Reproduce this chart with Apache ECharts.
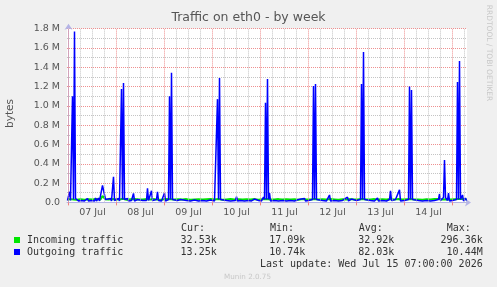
<!DOCTYPE html>
<html><head><meta charset="utf-8">
<script src="https://cdn.jsdelivr.net/npm/echarts@6/dist/echarts.min.js"></script>
<style>html,body{margin:0;padding:0;background:#f0f0f0;}#c{width:497px;height:287px;}</style>
</head><body><div id="c"></div>
<script>
// ---- axis definitions (hours since 07 Jul 00:00) ----
const xTickHours = [12, 36, 60, 84, 108, 132, 156, 180];
const xTickLabels = ['07 Jul', '08 Jul', '09 Jul', '10 Jul', '11 Jul', '12 Jul', '13 Jul', '14 Jul'];
const dayLineHours = [0, 24, 48, 72, 96, 120, 144, 168, 192];
const minorLineHours = [6, 12, 18, 30, 36, 42, 54, 60, 66, 78, 84, 90, 102, 108, 114, 126, 132, 138, 150, 156, 162, 174, 180, 186, 198];
const yTickLabels = ['0.0', '0.2 M', '0.4 M', '0.6 M', '0.8 M', '1.0 M', '1.2 M', '1.4 M', '1.6 M', '1.8 M'];

// ---- series (values in millions of bytes) ----
const seriesNames = ['Incoming traffic', 'Outgoing traffic'];
const inHours = [-0.5, 1, 2.5, 4, 6, 8, 10, 12, 14, 16, 16.5, 17, 17.5, 18, 18.5, 20, 22, 24, 26, 27.5, 29, 31, 33, 35, 37, 39.5, 41, 43, 45, 47, 49, 51, 53, 55, 57, 59, 61, 63, 65, 67, 69, 71, 73, 75, 77, 79, 81, 83, 85, 87, 89, 91, 93, 95, 97, 99, 101, 103, 105, 107, 109, 111, 113, 115, 117, 119, 121, 123, 125, 127, 129, 131, 133, 135, 137, 139, 141, 143, 145, 147, 149, 151, 153, 155, 157, 159, 161, 163, 165, 167, 169, 171, 173, 175, 177, 179, 181, 183, 185, 187, 188, 189, 191, 193, 195, 197, 199];
const inValues = [0.03, 0.034, 0.03, 0.028, 0.032, 0.027, 0.033, 0.03, 0.035, 0.03, 0.04, 0.066, 0.07, 0.05, 0.032, 0.029, 0.034, 0.03, 0.033, 0.038, 0.028, 0.032, 0.036, 0.029, 0.031, 0.036, 0.03, 0.034, 0.028, 0.031, 0.035, 0.033, 0.029, 0.032, 0.03, 0.034, 0.028, 0.031, 0.033, 0.029, 0.032, 0.035, 0.03, 0.036, 0.028, 0.031, 0.034, 0.03, 0.032, 0.029, 0.033, 0.03, 0.034, 0.028, 0.032, 0.036, 0.03, 0.031, 0.034, 0.029, 0.032, 0.03, 0.033, 0.028, 0.034, 0.031, 0.03, 0.035, 0.029, 0.032, 0.03, 0.034, 0.031, 0.028, 0.033, 0.03, 0.034, 0.029, 0.032, 0.036, 0.03, 0.031, 0.034, 0.029, 0.032, 0.03, 0.035, 0.031, 0.036, 0.029, 0.032, 0.034, 0.03, 0.031, 0.028, 0.033, 0.03, 0.034, 0.036, 0.031, 0.04, 0.033, 0.029, 0.032, 0.035, 0.034, 0.033];
const outHours = [-0.5, 0, 0.5, 1, 1.5, 2, 2.5, 3, 3.5, 4, 5, 6.5, 8, 9.5, 10, 11.5, 13, 13.5, 14, 15, 15.5, 16.5, 17, 17.5, 18, 18.5, 19.5, 21, 21.5, 22.5, 23, 24, 25, 25.5, 26, 26.5, 27, 27.5, 28, 29.5, 30, 31.5, 32.5, 33, 34.5, 35, 37, 39, 39.5, 40, 41, 41.5, 42, 44, 44.5, 45, 46.5, 47.5, 48, 48.5, 50, 50.5, 51, 51.5, 52, 53, 54.5, 56, 57, 59, 61, 63, 65, 67, 69, 71, 73, 74, 74.5, 75, 75.5, 76, 77, 79, 81, 83.5, 84, 84.5, 86, 88, 90, 91, 91.5, 93, 93.5, 95, 96.5, 97.5, 98, 98.5, 99, 99.5, 100, 100.5, 101, 103, 105, 107, 109, 111, 113, 115, 115.5, 118, 118.5, 120, 122, 122.5, 123, 123.5, 124, 125, 127, 129, 130.5, 131, 133, 135, 137, 139.5, 140, 141.5, 142, 144, 146, 146.5, 147, 147.5, 148, 149, 151, 153, 154.5, 155, 157, 159, 160.5, 161, 161.5, 163.5, 164, 164.5, 165.5, 166, 168, 170, 170.5, 171, 171.5, 172, 173, 175, 177, 179, 181, 183, 185, 185.5, 186, 187.5, 188, 188.5, 189.5, 190, 190.5, 192, 194, 194.5, 195, 195.5, 196, 196.5, 197, 197.5, 198.5, 199];
const outValues = [0.02, 0.03, 0.11, 0.02, 0.03, 1.10, 0.03, 1.77, 0.04, 0.035, 0.015, 0.02, 0.015, 0.04, 0.015, 0.02, 0.015, 0.045, 0.015, 0.045, 0.015, 0.03, 0.177, 0.18, 0.177, 0.03, 0.015, 0.04, 0.015, 0.266, 0.02, 0.015, 0.04, 0.015, 0.03, 1.175, 0.03, 1.237, 0.03, 0.04, 0.015, 0.02, 0.094, 0.015, 0.03, 0.015, 0.02, 0.02, 0.146, 0.02, 0.03, 0.12, 0.02, 0.03, 0.11, 0.02, 0.015, 0.03, 0.097, 0.015, 0.03, 1.10, 0.03, 1.344, 0.03, 0.015, 0.02, 0.03, 0.015, 0.02, 0.015, 0.025, 0.015, 0.02, 0.015, 0.025, 0.015, 0.03, 1.07, 0.03, 1.29, 0.03, 0.015, 0.02, 0.015, 0.02, 0.06, 0.015, 0.02, 0.015, 0.02, 0.04, 0.015, 0.035, 0.015, 0.02, 0.015, 0.055, 0.03, 1.033, 0.03, 1.279, 0.03, 0.097, 0.015, 0.02, 0.015, 0.02, 0.015, 0.02, 0.015, 0.03, 0.015, 0.04, 0.015, 0.02, 0.03, 1.206, 0.03, 1.227, 0.03, 0.015, 0.02, 0.015, 0.077, 0.015, 0.02, 0.015, 0.02, 0.055, 0.015, 0.035, 0.015, 0.02, 0.03, 1.227, 0.03, 1.558, 0.03, 0.015, 0.02, 0.015, 0.045, 0.015, 0.02, 0.015, 0.03, 0.12, 0.02, 0.03, 0.05, 0.02, 0.13, 0.015, 0.02, 0.03, 1.20, 0.03, 1.165, 0.03, 0.015, 0.02, 0.015, 0.02, 0.015, 0.02, 0.03, 0.087, 0.02, 0.05, 0.44, 0.05, 0.02, 0.097, 0.015, 0.02, 0.03, 1.248, 0.03, 1.465, 0.03, 0.015, 0.077, 0.015, 0.045, 0.02];

// ---- legend table ----
const statHeaders = ['Cur:', 'Min:', 'Avg:', 'Max:'];
const curValues = ['32.53k', '13.25k'];
const minValues = ['17.09k', '10.74k'];
const avgValues = ['32.92k', '82.03k'];
const maxValues = ['296.36k', '10.44M'];
const lastUpdate = 'Last update: Wed Jul 15 07:00:00 2026';
const titleText = 'Traffic on eth0 - by week';
const yAxisName = 'bytes';
const sideText = 'RRDTOOL / TOBI OETIKER';
const footerText = 'Munin 2.0.75';

const colors = ['#00e600', '#0000ff'];
const SANS = 'DejaVu Sans';
const MONO = 'DejaVu Sans Mono';

const zip = (hs, vs) => hs.map((h, i) => [h, vs[i]]);

const chart = echarts.init(document.getElementById('c'), null, {renderer: 'canvas'});

const colRight = [216.7, 305.3, 394.3, 482.7];
const colHeaderLeft = [181, 270, 358.7, 446.7];
const cols = [curValues, minValues, avgValues, maxValues];
const graphics = [];
statHeaders.forEach((t, i) => {
  graphics.push({type: 'text', left: colHeaderLeft[i], top: 223, style: {text: t, font: '10px ' + MONO, fill: '#333'}});
  cols[i].forEach((v, r) => {
    graphics.push({type: 'text', x: colRight[i], y: 240 + r * 12, style: {text: v, font: '10px ' + MONO, fill: '#333', align: 'right', verticalAlign: 'middle'}});
  });
});
graphics.push({type: 'text', x: 482.7, y: 264, style: {text: lastUpdate, font: '10px ' + MONO, fill: '#333', align: 'right', verticalAlign: 'middle'}});
graphics.push({type: 'text', x: 247.5, y: 277, style: {text: footerText, font: '7.2px ' + SANS, fill: '#c8c8c8', align: 'center', verticalAlign: 'middle'}});
graphics.push({type: 'text', x: 10.5, y: 113.5, rotation: Math.PI / 2, style: {text: yAxisName, font: '10.5px ' + SANS, fill: '#555', align: 'center', verticalAlign: 'middle'}});
graphics.push({type: 'text', x: 488.5, y: 53, rotation: -Math.PI / 2, style: {text: sideText, font: '7.5px ' + SANS, fill: '#c8c8c8', align: 'center', verticalAlign: 'middle'}});

const option = {
  animation: false,
  backgroundColor: '#f0f0f0',
  title: {text: titleText, left: 'center', top: 11, padding: 0,
    textStyle: {fontFamily: SANS, fontSize: 12.5, fontWeight: 'normal', color: '#555'}},
  grid: {left: 67, top: 28.7, width: 400, height: 173.7, show: true, backgroundColor: '#ffffff', borderWidth: 0},
  legend: {
    data: seriesNames, orient: 'vertical', left: 14, top: 234, padding: 0,
    itemWidth: 6, itemHeight: 6, itemGap: 0, icon: 'rect', selectedMode: false,
    textStyle: {fontFamily: MONO, fontSize: 10, color: '#333', lineHeight: 12, padding: [0, 0, 0, 2]}
  },
  xAxis: {
    type: 'value', min: -0.75, max: 199.25,
    splitLine: {show: false},
    axisLine: {show: true, lineStyle: {color: '#b4b4e6', width: 1}, symbol: ['none', 'arrow'], symbolSize: [6, 6], symbolOffset: [0, 4]},
    axisTick: {show: true, customValues: dayLineHours, length: 3, lineStyle: {color: '#f08080'}},
    axisLabel: {customValues: xTickHours, margin: 5, fontFamily: SANS, fontSize: 9.5, color: '#555',
      formatter: v => { const i = xTickHours.indexOf(Math.round(v)); return i >= 0 ? xTickLabels[i] : ''; }}
  },
  yAxis: {
    type: 'value', min: 0, max: 1.8, interval: 0.2,
    axisLine: {show: true, lineStyle: {color: '#b4b4e6', width: 1}, symbol: ['none', 'arrow'], symbolSize: [6, 6], symbolOffset: [0, 5]},
    axisTick: {show: false},
    axisLabel: {margin: 7, fontFamily: SANS, fontSize: 9.5, color: '#555',
      formatter: v => yTickLabels[Math.round(v / 0.2)]},
    splitLine: {show: true, lineStyle: {color: '#ee9090', type: [1, 1], width: 1}},
    minorTick: {show: false, splitNumber: 2},
    minorSplitLine: {show: true, lineStyle: {color: '#c4c4c4', type: [1, 1], width: 1}}
  },
  graphic: graphics,
  series: [
    {name: 'grid6h', type: 'line', data: [], z: 1, silent: true,
      markLine: {symbol: 'none', silent: true, label: {show: false}, animation: false,
        lineStyle: {color: '#c4c4c4', type: [1, 1], width: 1},
        data: minorLineHours.map(h => ({xAxis: h}))}},
    {name: 'gridDay', type: 'line', data: [], z: 1, silent: true,
      markLine: {symbol: 'none', silent: true, label: {show: false}, animation: false,
        lineStyle: {color: '#ee9090', type: [1, 1], width: 1},
        data: dayLineHours.map(h => ({xAxis: h}))}},
    {name: seriesNames[0], type: 'line', data: zip(inHours, inValues), z: 3, symbol: 'none',
      lineStyle: {color: colors[0], width: 2}, itemStyle: {color: colors[0]}},
    {name: seriesNames[1], type: 'line', data: zip(outHours, outValues), z: 4, symbol: 'none',
      lineStyle: {color: colors[1], width: 1.5}, itemStyle: {color: colors[1]}}
  ]
};
chart.setOption(option);
</script></body></html>
